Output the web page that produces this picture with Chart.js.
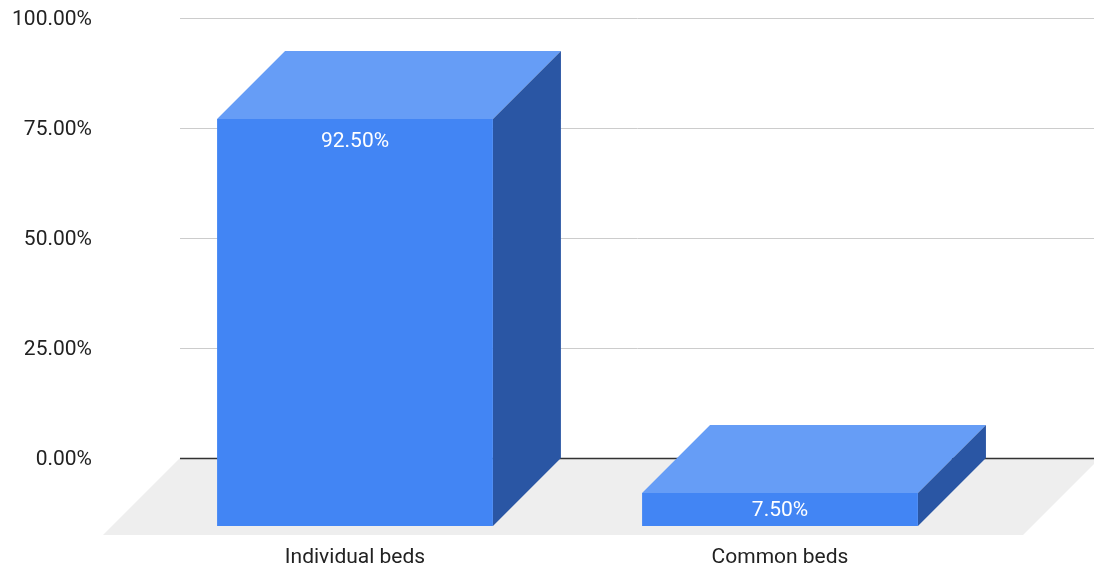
<!DOCTYPE html>
<html>
<head>
<meta charset="utf-8">
<script src="https://cdn.jsdelivr.net/npm/chart.js@4.4.1/dist/chart.umd.min.js"></script>
<style>
  html, body { margin: 0; padding: 0; background: #fff; }
  #wrap { width: 1094px; height: 569px; position: relative; }
</style>
</head>
<body>
<div id="wrap"><canvas id="bedChart"></canvas></div>
<script>
// data
const categories = ['Individual beds', 'Common beds'];
const shares = [92.5, 7.5];
const yTicks = [0, 25, 50, 75, 100];

const FONT = 'Roboto, "Liberation Sans", Arial, sans-serif';
const DEPTH = 68;       // bar depth (px, drawn as 45deg offset)
const FLOOR = 77;       // floor depth

const colFront = '#4285f4';
const colTop = '#669df6';
const colSide = '#2a56a4';

const fmt = v => v.toFixed(2) + '%';

// floor + grid behind the bars
const backdrop = {
  id: 'backdrop',
  beforeDatasetsDraw(chart) {
    const ctx = chart.ctx;
    const y = chart.scales.y;
    const zero = y.getPixelForValue(0);
    const gl = 180, gr = 1100;

    ctx.save();
    ctx.fillStyle = '#eeeeee';
    ctx.beginPath();
    ctx.moveTo(gl, zero);
    ctx.lineTo(gr, zero);
    ctx.lineTo(gr - FLOOR, zero + FLOOR);
    ctx.lineTo(gl - FLOOR, zero + FLOOR);
    ctx.closePath();
    ctx.fill();

    yTicks.forEach(t => {
      const py = Math.round(y.getPixelForValue(t)) + 0.5;
      ctx.beginPath();
      ctx.moveTo(gl, py);
      ctx.lineTo(gr, py);
      if (t === 0) {
        ctx.strokeStyle = '#333333';
        ctx.lineWidth = 1.5;
      } else {
        ctx.strokeStyle = '#cccccc';
        ctx.lineWidth = 1;
      }
      ctx.stroke();
    });
    ctx.restore();
  }
};

// 3d boxes, value labels, category labels
const boxes = {
  id: 'boxes',
  afterDatasetsDraw(chart) {
    const ctx = chart.ctx;
    const meta = chart.getDatasetMeta(0);
    ctx.save();
    meta.data.forEach((bar, i) => {
      const p = bar.getProps(['x', 'y', 'base', 'width'], true);
      const l = p.x - p.width / 2, r = p.x + p.width / 2;
      const top = p.y, bot = p.base;

      // top face
      ctx.fillStyle = colTop;
      ctx.beginPath();
      ctx.moveTo(l, top);
      ctx.lineTo(r, top);
      ctx.lineTo(r - DEPTH, top + DEPTH);
      ctx.lineTo(l - DEPTH, top + DEPTH);
      ctx.closePath();
      ctx.fill();

      // side face
      ctx.fillStyle = colSide;
      ctx.beginPath();
      ctx.moveTo(r, top);
      ctx.lineTo(r, bot);
      ctx.lineTo(r - DEPTH, bot + DEPTH);
      ctx.lineTo(r - DEPTH, top + DEPTH);
      ctx.closePath();
      ctx.fill();

      // front face
      ctx.fillStyle = colFront;
      ctx.fillRect(l - DEPTH, top + DEPTH, p.width, bot - top);

      // value label
      const ft = top + DEPTH, fb = bot + DEPTH;
      ctx.fillStyle = '#ffffff';
      ctx.font = '21px ' + FONT;
      ctx.textAlign = 'center';
      ctx.textBaseline = 'middle';
      ctx.fillText(fmt(shares[i]), p.x - DEPTH, Math.min(ft + 23, (ft + fb) / 2 + 1));

      // category label
      ctx.fillStyle = '#222222';
      ctx.fillText(categories[i], p.x - DEPTH, 558);
    });
    ctx.restore();
  }
};

new Chart(document.getElementById('bedChart'), {
  type: 'bar',
  data: {
    labels: categories,
    datasets: [{
      data: shares,
      backgroundColor: 'rgba(0,0,0,0)',
      borderWidth: 0,
      categoryPercentage: 1,
      barPercentage: 0.649
    }]
  },
  options: {
    responsive: true,
    maintainAspectRatio: false,
    animation: false,
    layout: { padding: { top: 18, right: 33.5, bottom: 111, left: 0 } },
    plugins: {
      legend: { display: false },
      tooltip: { enabled: false }
    },
    scales: {
      x: { display: false },
      y: {
        min: 0,
        max: 100,
        afterFit(scale) {
          scale.width = 210.5;
          scale.paddingTop = 0;
          scale.paddingBottom = 0;
        },
        afterBuildTicks(scale) { scale.ticks = yTicks.map(v => ({ value: v })); },
        grid: { display: false, drawTicks: false },
        border: { display: false },
        ticks: {
          padding: 118.5,
          labelOffset: 2,
          color: '#222222',
          font: { family: FONT, size: 21 },
          callback: v => fmt(v)
        }
      }
    }
  },
  plugins: [backdrop, boxes]
});
</script>
</body>
</html>
